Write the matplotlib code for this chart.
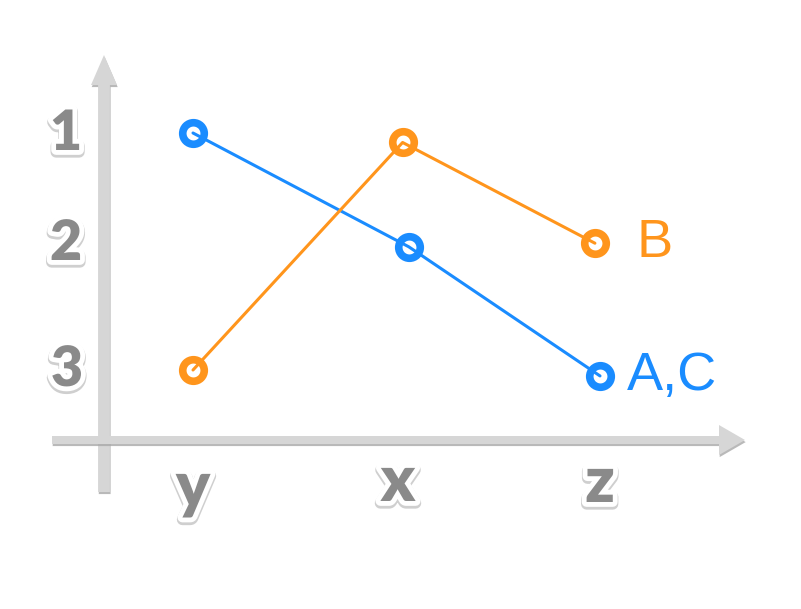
import matplotlib
matplotlib.use("Agg")
import matplotlib.pyplot as plt
import matplotlib.patheffects as pe
from matplotlib.patches import FancyArrow

# ---- data ----
categories = ["y", "x", "z"]
rank_ticks = [1, 2, 3]
series_names = ["A,C", "B"]
blue_x = [0.0, 1.06, 2.0]
blue_rank = [1.0, 1.96, 3.05]
orange_x = [0.0, 1.03, 1.975]
orange_rank = [3.0, 1.08, 1.93]

BLUE = "#1a8cff"
ORANGE = "#ff951c"
GRAY = "#8a8a8a"
AXIS = "#d6d6d6"

W, H = 801, 609
X0, XS = 193, 203.5   # pixel of category 0, pixels per category
Y0, YS = 133, 118.5   # pixel of rank 1, pixels per rank
fig = plt.figure(figsize=(W / 100, H / 100), dpi=100)
ax = fig.add_axes([0, 0, 1, 1])
ax.set_xlim(-X0 / XS, (W - X0) / XS)
ax.set_ylim(1 + (H - Y0) / YS, 1 - Y0 / YS)
ax.axis("off")

def fx(px):
    return px / W

def fy(py):
    return 1 - py / H

def rx(px):
    return (px - X0) / XS

def ry(py):
    return 1 + (py - Y0) / YS

shadow = [pe.SimplePatchShadow(offset=(0.5, -1.5), shadow_rgbFace="#a8a8a8", alpha=0.8), pe.Normal()]
ya = FancyArrow(fx(104), fy(492), 0, fy(55) - fy(492), width=9 / H, head_width=26 / W,
                head_length=30 / H, length_includes_head=True, transform=fig.transFigure,
                color=AXIS, lw=0, zorder=1)
ya.set_path_effects(shadow)
fig.patches.append(ya)
xa = FancyArrow(fx(52), fy(440), fx(745) - fx(52), 0, width=8 / H, head_width=30 / H,
                head_length=26 / W, length_includes_head=True, transform=fig.transFigure,
                color=AXIS, lw=0, zorder=1)
xa.set_path_effects(shadow)
fig.patches.append(xa)

label_fx = [pe.Stroke(linewidth=8, foreground="#cfcfcf", offset=(0, -1.5)),
            pe.Stroke(linewidth=7, foreground="white"), pe.Normal()]

# y tick labels (ranks)
tick_px = [(66, 150), (66, 260), (67, 386)]
for r, (px, py) in zip(rank_ticks, tick_px):
    ax.text(rx(px), ry(py), str(r), fontsize=40, fontweight="heavy",
            family="Lato", color=GRAY, ha="center", va="baseline",
            path_effects=label_fx, zorder=3)

# x category labels
cat_px = [(193, 507), (398, 501), (600, 502)]
for c, (px, py) in zip(categories, cat_px):
    ax.text(rx(px), ry(py), c, fontsize=46, fontweight="heavy", family="Lato",
            color=GRAY, ha="center", va="baseline", path_effects=label_fx, zorder=3)

# series
name_gap = {"A,C": 27, "B": 42}
for xs, ys, col, name in [(blue_x, blue_rank, BLUE, series_names[0]),
                          (orange_x, orange_rank, ORANGE, series_names[1])]:
    ax.plot(xs, ys, linestyle="none", marker="o", markersize=15.5, markeredgewidth=5.5,
            markerfacecolor="white", markeredgecolor=col, zorder=4)
    ax.plot(xs, ys, color=col, lw=2.2, zorder=5, solid_capstyle="round")
    ax.text(xs[-1] + name_gap[name] / XS, ys[-1], name, fontsize=39, color=col,
            family="Liberation Sans", ha="left", va="center", zorder=6)

fig.savefig("out.png", dpi=100, facecolor="white")
